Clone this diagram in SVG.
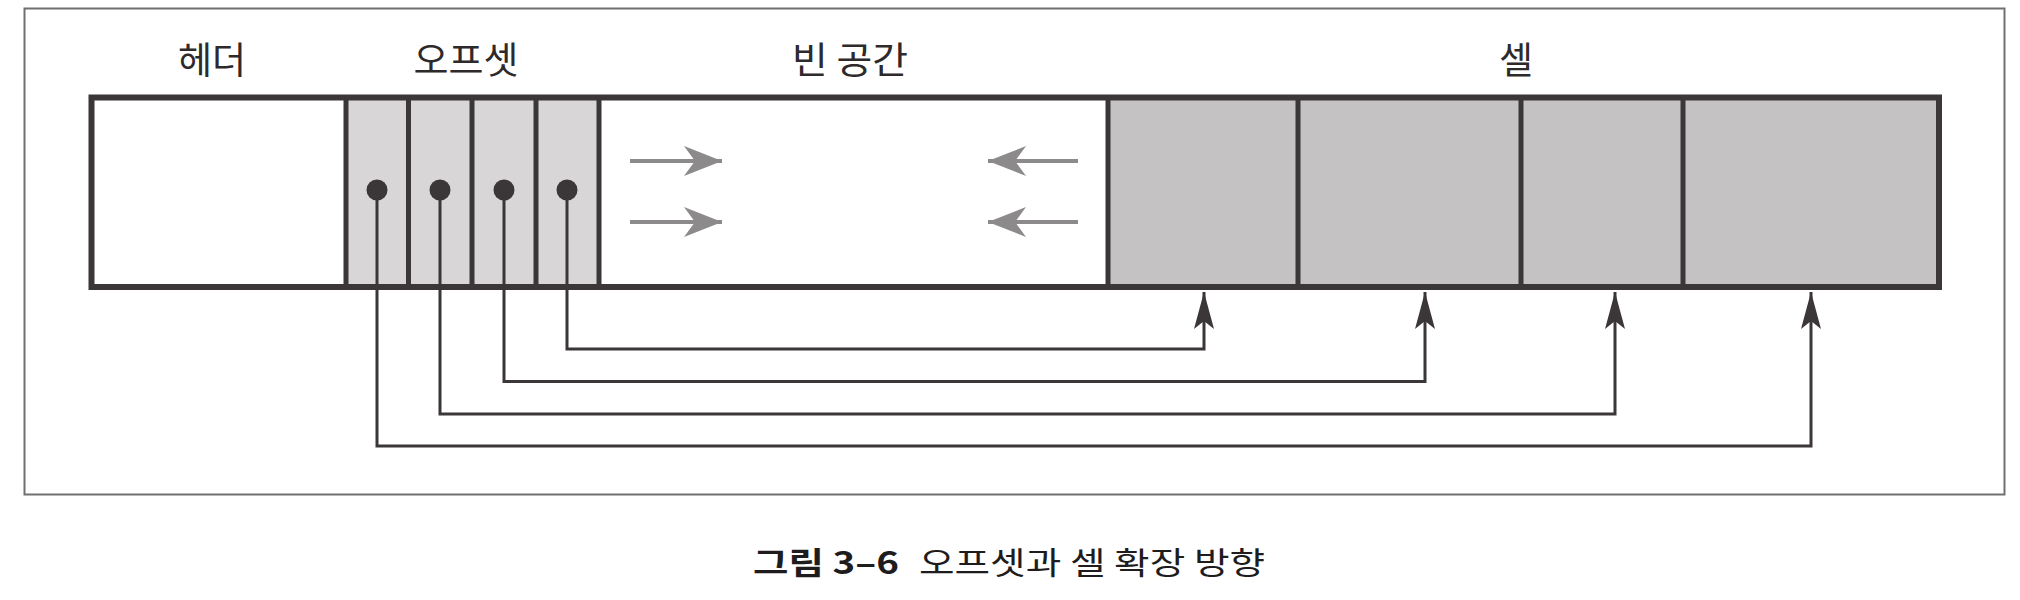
<svg xmlns="http://www.w3.org/2000/svg" width="2020" height="600" viewBox="0 0 2020 600">
<style>
.lbl{font-family:"Noto Sans CJK KR","Noto Sans",sans-serif;font-size:37px;fill:#2e2a2c;text-anchor:middle}
.cap{font-family:"Noto Sans CJK KR","Liberation Sans",sans-serif;font-size:31px;fill:#1e1c1d}
.off{fill:#d9d6d8}
.cell{fill:#c5c2c4}
.white{fill:#ffffff}
.div{stroke:#3b3638;stroke-width:5}
.box{fill:none;stroke:#3b3638;stroke-width:6}
.dot{fill:#3b3638}
.conn{fill:none;stroke:#3b3638;stroke-width:3}
.garrow{stroke:#8c8a8b;stroke-width:4;fill:none}
</style>
<defs>
<marker id="up" viewBox="0 0 37 20" refX="37" refY="10" markerWidth="37" markerHeight="20" markerUnits="userSpaceOnUse" orient="auto">
<path d="M37 10 L0 0 L8 10 L0 20 Z" fill="#3b3638"/>
</marker>
<marker id="garr" viewBox="0 0 38 30" refX="38" refY="15" markerWidth="38" markerHeight="30" markerUnits="userSpaceOnUse" orient="auto">
<path d="M38 15 L0 0 L11 15 L0 30 Z" fill="#8c8a8b"/>
</marker>
</defs>
<rect x="24.5" y="8.5" width="1980" height="486" fill="#ffffff" stroke="#707070" stroke-width="2"/>

<g id="labels">
<text class="lbl" x="212" y="74" textLength="68" lengthAdjust="spacingAndGlyphs">헤더</text>
<text class="lbl" x="466" y="74" textLength="105" lengthAdjust="spacingAndGlyphs">오프셋</text>
<text class="lbl" x="850" y="74" textLength="116" lengthAdjust="spacingAndGlyphs">빈 공간</text>
<text class="lbl" x="1516" y="74">셀</text>
</g>

<g id="header"><rect class="white" x="91.5" y="97.5" width="254.5" height="189.5"/></g>
<g id="offset1"><rect class="off" x="346" y="97.5" width="62.5" height="189.5"/><circle class="dot" cx="377" cy="190" r="10.5"/></g>
<g id="offset2"><rect class="off" x="408.5" y="97.5" width="63.5" height="189.5"/><circle class="dot" cx="440" cy="190" r="10.5"/></g>
<g id="offset3"><rect class="off" x="472" y="97.5" width="64" height="189.5"/><circle class="dot" cx="504" cy="190" r="10.5"/></g>
<g id="offset4"><rect class="off" x="536" y="97.5" width="63" height="189.5"/><circle class="dot" cx="567" cy="190" r="10.5"/></g>
<g id="freespace">
<rect class="white" x="599" y="97.5" width="509" height="189.5"/>
<line class="garrow" x1="630" y1="161" x2="722" y2="161" marker-end="url(#garr)"/>
<line class="garrow" x1="630" y1="222" x2="722" y2="222" marker-end="url(#garr)"/>
<line class="garrow" x1="1078" y1="161" x2="988" y2="161" marker-end="url(#garr)"/>
<line class="garrow" x1="1078" y1="222" x2="988" y2="222" marker-end="url(#garr)"/>
</g>
<g id="cell1"><rect class="cell" x="1108" y="97.5" width="190" height="189.5"/></g>
<g id="cell2"><rect class="cell" x="1298" y="97.5" width="223" height="189.5"/></g>
<g id="cell3"><rect class="cell" x="1521" y="97.5" width="162" height="189.5"/></g>
<g id="cell4"><rect class="cell" x="1683" y="97.5" width="256" height="189.5"/></g>

<g id="page-outline">
<line class="div" x1="346" y1="97.5" x2="346" y2="287"/>
<line class="div" x1="408.5" y1="97.5" x2="408.5" y2="287"/>
<line class="div" x1="472" y1="97.5" x2="472" y2="287"/>
<line class="div" x1="536" y1="97.5" x2="536" y2="287"/>
<line class="div" x1="599" y1="97.5" x2="599" y2="287"/>
<line class="div" x1="1108" y1="97.5" x2="1108" y2="287"/>
<line class="div" x1="1298" y1="97.5" x2="1298" y2="287"/>
<line class="div" x1="1521" y1="97.5" x2="1521" y2="287"/>
<line class="div" x1="1683" y1="97.5" x2="1683" y2="287"/>
<rect class="box" x="91.5" y="97.5" width="1847.5" height="189.5"/>
</g>

<g id="connectors">
<path class="conn" d="M567 190 V349 H1204 V292" marker-end="url(#up)"/>
<path class="conn" d="M504 190 V381.5 H1425 V292" marker-end="url(#up)"/>
<path class="conn" d="M440 190 V414 H1615 V292" marker-end="url(#up)"/>
<path class="conn" d="M377 190 V446 H1811 V292" marker-end="url(#up)"/>
</g>

<g id="caption">
<text class="cap" x="753" y="574" font-weight="bold" textLength="146" lengthAdjust="spacingAndGlyphs">그림 3–6</text>
<text class="cap" x="919" y="574" textLength="346" lengthAdjust="spacingAndGlyphs">오프셋과 셀 확장 방향</text>
</g>
</svg>
